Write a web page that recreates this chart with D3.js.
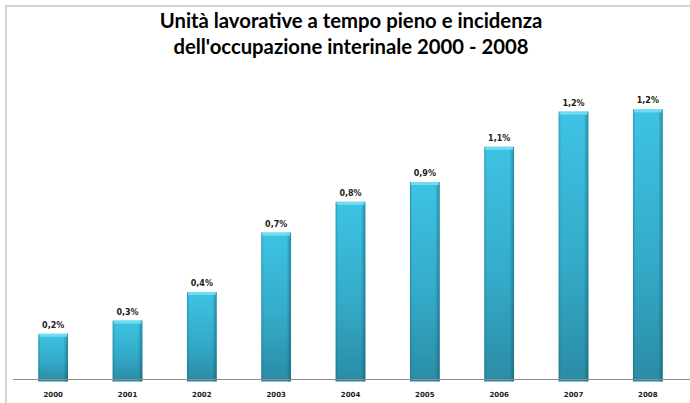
<!DOCTYPE html>
<html>
<head>
<meta charset="utf-8">
<script src="https://cdn.jsdelivr.net/npm/d3@7"></script>
<style>
  html, body { margin: 0; padding: 0; background: #fff; }
  svg { display: block; }
</style>
</head>
<body>
<svg id="chart" width="690" height="403"></svg>
<script>
// ---- data ----
const years = ["2000", "2001", "2002", "2003", "2004", "2005", "2006", "2007", "2008"];
const values = [0.21, 0.27, 0.40, 0.67, 0.81, 0.90, 1.06, 1.22, 1.23];
const titleLines = ["Unità lavorative a tempo pieno e incidenza", "dell'occupazione interinale 2000 - 2008"];

const svg = d3.select("#chart");

// frame
svg.append("rect").attr("x", 6).attr("y", 6).attr("width", 700).attr("height", 420)
  .attr("fill", "#fff").attr("stroke", "#d3d3d3").attr("stroke-width", 2);

// gradients
const defs = svg.append("defs");
const gv = defs.append("linearGradient").attr("id", "gv").attr("x1", 0).attr("y1", 0).attr("x2", 0).attr("y2", 1);
gv.append("stop").attr("offset", "0%").attr("stop-color", "#3ec3e4");
gv.append("stop").attr("offset", "55%").attr("stop-color", "#34abc9");
gv.append("stop").attr("offset", "100%").attr("stop-color", "#2a8ca6");
const gh = defs.append("linearGradient").attr("id", "gh").attr("x1", 0).attr("y1", 0).attr("x2", 1).attr("y2", 0);
gh.append("stop").attr("offset", "0%").attr("stop-color", "#0d4f60").attr("stop-opacity", 0.35);
gh.append("stop").attr("offset", "8%").attr("stop-color", "#0d4f60").attr("stop-opacity", 0.0);
gh.append("stop").attr("offset", "85%").attr("stop-color", "#0d4f60").attr("stop-opacity", 0.0);
gh.append("stop").attr("offset", "100%").attr("stop-color", "#0d4f60").attr("stop-opacity", 0.5);

// scales
const x = d3.scaleBand().domain(years).range([16, 685]).paddingInner(0.6).paddingOuter(0.3);
const y = d3.scaleLinear().domain([0, 1.4]).range([380, 72]);

// bars
const g = svg.append("g");
const bars = g.selectAll("g.bar").data(years).join("g").attr("class", "bar");
bars.append("rect")
  .attr("x", d => x(d)).attr("width", x.bandwidth())
  .attr("y", (d, i) => y(values[i])).attr("height", (d, i) => y(0) - y(values[i]) + 1.5)
  .attr("fill", "url(#gv)");
bars.append("rect")
  .attr("x", d => x(d)).attr("width", x.bandwidth())
  .attr("y", (d, i) => y(values[i])).attr("height", (d, i) => y(0) - y(values[i]) + 1.5)
  .attr("fill", "url(#gh)");
bars.append("rect")
  .attr("x", d => x(d) + 1).attr("width", x.bandwidth() - 2)
  .attr("y", (d, i) => y(values[i])).attr("height", 3)
  .attr("fill", "#6fdcf2");

// value labels
const fmt = v => d3.format(".1f")(v).replace(".", ",") + "%";
bars.append("text")
  .attr("x", d => x(d) + x.bandwidth() / 2)
  .attr("y", (d, i) => y(values[i]) - 6)
  .attr("text-anchor", "middle")
  .attr("font-family", "DejaVu Sans, Verdana, sans-serif")
  .attr("font-weight", "bold").attr("font-size", 8).attr("fill", "#1a1a1a")
  .text((d, i) => fmt(values[i]));

// x axis
const xAxis = d3.axisBottom(x).tickSize(0).tickPadding(0);
const ax = svg.append("g").attr("transform", `translate(0,${y(0)})`).call(xAxis);
ax.select(".domain").remove();
ax.selectAll("text")
  .attr("y", 17).attr("dy", 0)
  .attr("font-family", "DejaVu Sans, Verdana, sans-serif")
  .attr("font-weight", "bold").attr("font-size", 7).attr("fill", "#1a1a1a");
svg.append("line").attr("x1", 13).attr("x2", 690).attr("y1", y(0) - 0.5).attr("y2", y(0) - 0.5)
  .attr("stroke", "#8c8c8c").attr("stroke-width", 1);

// title
const tl = svg.append("g").attr("font-family", "Lato, 'Open Sans', sans-serif").attr("font-weight", "bold")
  .attr("fill", "#000").attr("text-anchor", "middle");
const texts = titleLines.map((t, i) =>
  tl.append("text").attr("x", 351).attr("y", 28 + i * 26).attr("font-size", 18).text(t));
const total = texts.reduce((s, t) => s + t.node().getComputedTextLength(), 0);
const fs = 18 * (398 + 340) / total;
texts.forEach(t => t.attr("font-size", fs));
</script>
</body>
</html>
